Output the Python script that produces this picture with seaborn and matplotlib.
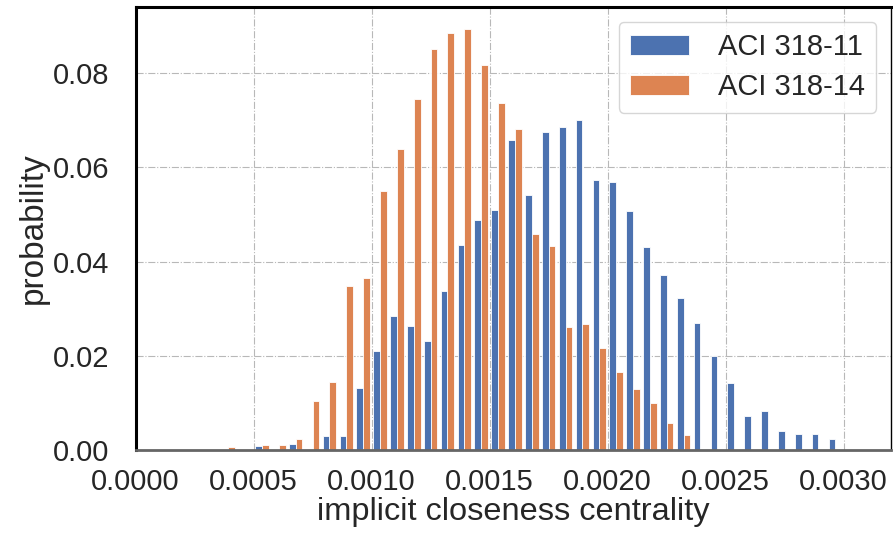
import numpy as np
import pandas as pd
import seaborn as sns
import matplotlib.pyplot as plt

# 42 equal bins between 0 and 0.003
bin_edges = list(np.linspace(0, 0.003, 43))
bin_centers = [(a + b) / 2 for a, b in zip(bin_edges[:-1], bin_edges[1:])]

series_names = ['ACI 318-11', 'ACI 318-14']

# probability per bin
prob_aci11 = [0, 0, 0, 0, 0, 0, 0, 0.00085, 0, 0.00134,
              0, 0.00297, 0.00297, 0.0131, 0.0211, 0.0285, 0.0264, 0.0232, 0.0338, 0.0434,
              0.0488, 0.0509, 0.0658, 0.0541, 0.0674, 0.0685, 0.0701, 0.0573, 0.0568, 0.0508,
              0.0430, 0.0371, 0.0323, 0.0269, 0.0200, 0.0142, 0.0072, 0.0083, 0.0040, 0.0035,
              0.0035, 0.0024]
prob_aci14 = [0, 0, 0, 0, 0, 0.0007, 0, 0.0011, 0.0011, 0.0023,
              0.0103, 0.0145, 0.0348, 0.0365, 0.0550, 0.0638, 0.0745, 0.0851, 0.0885, 0.0893,
              0.0817, 0.0736, 0.0682, 0.0458, 0.0432, 0.0260, 0.0268, 0.0217, 0.0166, 0.0129,
              0.0099, 0.0057, 0.0032, 0, 0, 0, 0, 0, 0, 0,
              0, 0]

df = pd.DataFrame({
    'centrality': bin_centers + bin_centers,
    'prob': prob_aci11 + prob_aci14,
    'code': [series_names[0]] * 42 + [series_names[1]] * 42,
})
df = df[df['prob'] > 0]

sns.set_style('whitegrid')
plt.rcParams['font.family'] = ['Liberation Sans', 'DejaVu Sans']
plt.rcParams['text.color'] = '#262626'
plt.rcParams['axes.labelcolor'] = '#262626'
plt.rcParams['xtick.color'] = '#262626'
plt.rcParams['ytick.color'] = '#262626'

fig = plt.figure(figsize=(8.93, 5.48), dpi=100)
ax = fig.add_axes([0.1518, 0.1788, 0.8459, 0.8084])

sns.histplot(data=df, x='centrality', weights='prob', hue='code', hue_order=series_names,
             bins=bin_edges, multiple='dodge', shrink=0.8, stat='count', alpha=1,
             palette=['#4C72B0', '#DD8452'], edgecolor='white', linewidth=0.6, ax=ax)

ax.set_xlim(0, 0.0032)
ax.set_ylim(0, 0.094)
ax.set_xticks([0, 0.0005, 0.001, 0.0015, 0.002, 0.0025, 0.003])
ax.set_xticklabels(['0.0000', '0.0005', '0.0010', '0.0015', '0.0020', '0.0025', '0.0030'])
ax.set_yticks([0, 0.02, 0.04, 0.06, 0.08])
ax.set_yticklabels(['0.00', '0.02', '0.04', '0.06', '0.08'])
ax.tick_params(axis='x', labelsize=21, pad=13, length=0)
ax.tick_params(axis='y', labelsize=21, pad=19, length=0)
ax.set_xlabel('implicit closeness centrality', fontsize=23.4, labelpad=1)
ax.set_ylabel('probability', fontsize=24, labelpad=3)

ax.set_axisbelow(True)
ax.grid(True, color='0.72', linestyle='-.', linewidth=0.8)
for side in ['left', 'top', 'right']:
    ax.spines[side].set_color('black')
    ax.spines[side].set_linewidth(2.2)
ax.spines['right'].set_linewidth(1)
ax.spines['bottom'].set_color('0.4')
ax.spines['bottom'].set_linewidth(2)

sns.move_legend(ax, 'upper right', title=None, fontsize=21, frameon=True,
                handlelength=2.0, handletextpad=1.0, labelspacing=0.4)

fig.savefig('out.png', dpi=100)
